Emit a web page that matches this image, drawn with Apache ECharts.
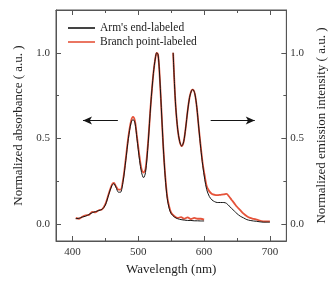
<!DOCTYPE html>
<html>
<head>
<meta charset="utf-8">
<script src="https://cdn.jsdelivr.net/npm/echarts@6/dist/echarts.min.js"></script>
<style>
  html, body { margin: 0; padding: 0; background: #fff; }
  #chart { width: 336px; height: 282px; }
</style>
</head>
<body>
<div id="chart"></div>
<script>
// absorption (left axis)
const absWl = [405, 410, 415, 420, 425, 430, 435, 440, 445, 450, 455, 460, 463, 466, 470, 473, 477, 481, 485, 489, 492, 495, 498, 502, 505, 508, 511, 515, 519, 523, 526, 528, 530, 532, 535, 538, 541, 544, 547, 550, 555, 560, 565, 570, 575, 580, 585, 590, 595, 600];
const absBlack = [0.03, 0.033, 0.04, 0.045, 0.055, 0.065, 0.072, 0.078, 0.085, 0.11, 0.17, 0.225, 0.235, 0.215, 0.185, 0.185, 0.25, 0.37, 0.5, 0.59, 0.61, 0.59, 0.5, 0.37, 0.3, 0.27, 0.3, 0.47, 0.7, 0.88, 0.97, 1.0, 0.99, 0.9, 0.68, 0.45, 0.27, 0.15, 0.09, 0.06, 0.04, 0.03, 0.025, 0.022, 0.02, 0.02, 0.018, 0.018, 0.017, 0.017];
const absRed = [0.035, 0.03, 0.042, 0.05, 0.052, 0.07, 0.068, 0.08, 0.085, 0.115, 0.175, 0.23, 0.24, 0.22, 0.2, 0.2, 0.26, 0.38, 0.51, 0.6, 0.625, 0.6, 0.51, 0.39, 0.32, 0.3, 0.32, 0.48, 0.7, 0.88, 0.97, 1.0, 0.99, 0.9, 0.68, 0.45, 0.28, 0.16, 0.1, 0.065, 0.045, 0.035, 0.04, 0.03, 0.038, 0.028, 0.035, 0.03, 0.03, 0.025];

// emission (right axis)
const emWl = [553, 555, 557, 560, 563, 566, 569, 572, 575, 578, 581, 583, 586, 589, 592, 595, 598, 601, 604, 608, 612, 616, 620, 625, 630, 634, 638, 642, 646, 650, 655, 660, 665, 670, 675, 680, 690, 700];
const emBlack = [1.0, 0.82, 0.68, 0.55, 0.48, 0.455, 0.48, 0.56, 0.66, 0.74, 0.78, 0.785, 0.76, 0.68, 0.56, 0.44, 0.34, 0.26, 0.2, 0.16, 0.14, 0.13, 0.125, 0.125, 0.125, 0.12, 0.105, 0.09, 0.075, 0.06, 0.045, 0.035, 0.025, 0.02, 0.017, 0.015, 0.01, 0.01];
const emRed = [1.0, 0.82, 0.68, 0.55, 0.48, 0.455, 0.48, 0.56, 0.66, 0.74, 0.78, 0.785, 0.76, 0.68, 0.56, 0.45, 0.35, 0.28, 0.22, 0.19, 0.175, 0.17, 0.168, 0.17, 0.172, 0.175, 0.16, 0.14, 0.12, 0.1, 0.08, 0.06, 0.045, 0.035, 0.03, 0.025, 0.015, 0.015];

const seriesNames = ["Arm's end-labeled", 'Branch point-labeled'];
const xMajor = [400, 500, 600, 700];
const xMinor = [450, 550, 650];
const yMajor = [0, 0.5, 1.0];
const yMinor = [0.25, 0.75];

const pair = (xs, ys) => xs.map((x, i) => [x, ys[i]]);

const FONT = '"Liberation Serif", "DejaVu Serif", serif';
const AX = '#555';
const RED = '#e5533a';
const BLACK = '#151515';
const labelStyle = { fontFamily: FONT, fontSize: 11, color: '#333' };
const nameStyle = { fontFamily: FONT, fontSize: 13, color: '#222' };

const chart = echarts.init(document.getElementById('chart'));

// one axis per tick set: major (with line/labels) and minor (ticks only)
const xAxisOf = (pos, ticks, len, withLine, extra) => Object.assign({
  type: 'value', min: 375, max: 725, position: pos,
  axisLine: { show: withLine, onZero: false, lineStyle: { color: AX, width: 1 } },
  axisTick: { show: true, inside: true, length: len, customValues: ticks, lineStyle: { color: AX } },
  axisLabel: { show: false },
  splitLine: { show: false },
}, extra || {});
const yAxisOf = (pos, ticks, len, withLine, extra) => Object.assign({
  type: 'value', min: -0.1, max: 1.25, position: pos,
  axisLine: { show: withLine, onZero: false, lineStyle: { color: AX, width: 1 } },
  axisTick: { show: true, inside: true, length: len, customValues: ticks, lineStyle: { color: AX } },
  axisLabel: { show: false },
  splitLine: { show: false },
}, extra || {});

chart.setOption({
  animation: false,
  grid: { left: 56, top: 10, right: 49, bottom: 41, show: true, borderColor: AX, borderWidth: 1 },
  legend: {
    data: seriesNames.map((n) => ({ name: n, icon: 'rect' })),
    orient: 'vertical',
    left: 63, top: 17,
    itemWidth: 27, itemHeight: 1.6, itemGap: 2,
    textStyle: { fontFamily: FONT, fontSize: 11.5, color: '#222' },
  },
  xAxis: [
    xAxisOf('bottom', xMajor, 5, true, {
      name: 'Wavelength (nm)', nameLocation: 'middle', nameGap: 21, nameTextStyle: nameStyle,
      axisLabel: Object.assign({ show: true, margin: 6, customValues: xMajor }, labelStyle),
    }),
    xAxisOf('top', xMajor, 5, true),
    xAxisOf('bottom', xMinor, 3, false),
    xAxisOf('top', xMinor, 3, false),
  ],
  yAxis: [
    yAxisOf('left', yMajor, 5, true, {
      name: 'Normalized absorbance ( a.u. )', nameLocation: 'middle', nameGap: 25, nameTextStyle: nameStyle,
      axisLabel: Object.assign({ show: true, margin: 6, customValues: yMajor, formatter: (v) => v.toFixed(1) }, labelStyle),
    }),
    yAxisOf('right', yMajor, 5, true, {
      name: 'Normalized emission intensity ( a.u. )', nameLocation: 'middle', nameGap: 20, nameRotate: 90,
      nameTextStyle: nameStyle,
      axisLabel: Object.assign({ show: true, margin: 4, customValues: yMajor, formatter: (v) => v.toFixed(1) }, labelStyle),
    }),
    yAxisOf('left', yMinor, 3, false),
    yAxisOf('right', yMinor, 3, false),
  ],
  series: [
    {
      name: seriesNames[1], type: 'line', xAxisIndex: 0, yAxisIndex: 0,
      data: pair(absWl, absRed), smooth: 0.3, showSymbol: false, symbol: 'none',
      lineStyle: { color: RED, width: 1.8 }, itemStyle: { color: RED },
    },
    {
      name: seriesNames[1], type: 'line', xAxisIndex: 0, yAxisIndex: 1,
      data: pair(emWl, emRed), smooth: 0.3, showSymbol: false, symbol: 'none',
      lineStyle: { color: RED, width: 1.8 }, itemStyle: { color: RED },
    },
    {
      name: seriesNames[0], type: 'line', xAxisIndex: 0, yAxisIndex: 0,
      data: pair(absWl, absBlack), smooth: 0.3, showSymbol: false, symbol: 'none',
      lineStyle: { color: BLACK, width: 1 }, itemStyle: { color: BLACK },
      markLine: {
        silent: true, symbol: ['none', 'arrow'], symbolSize: [6, 9],
        label: { show: false },
        lineStyle: { color: BLACK, type: 'solid', width: 1.2 },
        data: [
          [{ coord: [469, 0.604] }, { coord: [416, 0.604] }],
          [{ coord: [610, 0.604] }, { coord: [677, 0.604] }],
        ],
      },
    },
    {
      name: seriesNames[0], type: 'line', xAxisIndex: 0, yAxisIndex: 1,
      data: pair(emWl, emBlack), smooth: 0.3, showSymbol: false, symbol: 'none',
      lineStyle: { color: BLACK, width: 1 }, itemStyle: { color: BLACK },
    },
  ],
});
</script>
</body>
</html>
